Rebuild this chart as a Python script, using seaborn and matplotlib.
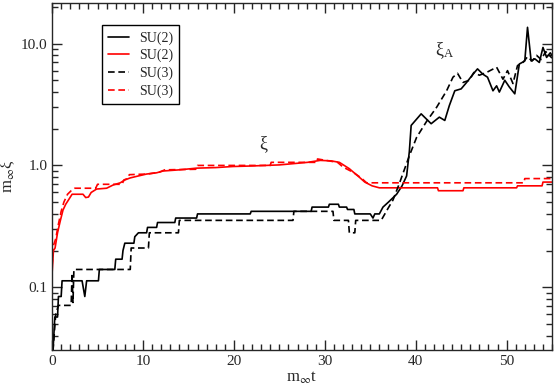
import numpy as np
import pandas as pd
import matplotlib
matplotlib.use("Agg")
import matplotlib.pyplot as plt
from matplotlib.ticker import MultipleLocator, FixedLocator, FixedFormatter
import seaborn as sns

# m_inf t  vs  m_inf xi
t_su2_xiA = [0.1, 0.3, 0.6, 0.7, 1.0, 1.1, 3.3, 3.6, 3.8, 5.1, 5.2, 6.9, 7.0, 7.7, 7.8, 8.0,
             9.0, 9.1, 9.5, 10.4, 10.5, 11.5, 11.6, 13.5, 13.6, 15.9, 16.0, 21.8, 21.9, 28.5,
             28.6, 30.4, 30.5, 31.5, 31.6, 32.4, 32.5, 33.2, 33.3, 35.0, 35.3, 35.5, 36.0, 36.4,
             37.0, 37.9, 38.5, 39.0, 39.3, 39.5, 40.6, 41.7, 42.6, 43.2, 43.7, 44.3, 45.0, 45.6,
             46.3, 46.8, 47.4, 47.9, 48.5, 48.9, 49.2, 49.8, 50.3, 50.9, 51.4, 52.0, 52.3, 52.7,
             53.1, 53.6, 54.0, 54.4, 54.8, 55.0]
v_su2_xiA = [0.03, 0.057, 0.057, 0.084, 0.084, 0.113, 0.113, 0.084, 0.113, 0.113, 0.14, 0.14,
             0.17, 0.17, 0.2, 0.23, 0.23, 0.26, 0.28, 0.28, 0.31, 0.31, 0.34, 0.34, 0.37, 0.37,
             0.40, 0.40, 0.42, 0.42, 0.455, 0.455, 0.48, 0.48, 0.455, 0.455, 0.435, 0.435, 0.40,
             0.40, 0.37, 0.40, 0.40, 0.455, 0.5, 0.58, 0.68, 0.82, 1.3, 2.13, 2.65, 2.2, 2.49,
             2.34, 3.1, 4.1, 4.25, 4.8, 5.6, 6.2, 5.6, 5.3, 4.1, 4.5, 4.0, 5.0, 4.4, 3.87, 6.8,
             7.2, 13.6, 7.2, 7.5, 7.0, 9.3, 7.7, 8.4, 8.0]

t_su3_xiA = [0.1, 0.4, 0.7, 2.1, 2.2, 2.3, 2.4, 8.6, 8.7, 10.6, 10.7, 13.9, 14.0, 26.5, 26.6,
             30.9, 31.0, 32.6, 32.7, 33.3, 33.4, 36.2, 37.0, 37.5, 38.2, 39.3, 40.1, 41.2, 42.3,
             43.4, 44.1, 44.6, 45.2, 45.9, 46.4, 47.0, 47.8, 48.9, 49.6, 50.1, 50.7, 51.2, 51.8,
             52.3, 52.8, 53.3, 53.8, 54.3, 55.0]
v_su3_xiA = [0.03, 0.06, 0.071, 0.071, 0.13, 0.075, 0.14, 0.14, 0.21, 0.21, 0.28, 0.28, 0.354,
             0.354, 0.42, 0.42, 0.354, 0.354, 0.28, 0.28, 0.354, 0.354, 0.45, 0.52, 0.71, 1.2,
             1.7, 2.3, 3.0, 4.1, 5.3, 5.7, 4.8, 5.0, 5.8, 5.5, 5.8, 6.4, 5.1, 6.0, 4.7, 6.6, 7.0,
             7.8, 7.2, 8.0, 7.4, 8.6, 7.6]

t_su2_xi = [0.0, 0.15, 0.33, 0.6, 0.9, 1.2, 1.5, 1.8, 2.2, 3.4, 3.7, 4.0, 4.3, 4.9, 6.0, 6.7,
            7.5, 8.0, 8.6, 9.5, 10.4, 11.5, 12.2, 14.0, 15.9, 18.0, 19.9, 22.0, 25.0, 28.1,
            29.5, 30.7, 31.6, 32.7, 33.8, 34.4, 35.2, 36.0, 42.4, 42.5, 45.2, 45.3, 51.1, 51.2,
            53.9, 54.0, 55.0]
v_su2_xi = [0.13, 0.2, 0.21, 0.28, 0.35, 0.43, 0.48, 0.52, 0.58, 0.58, 0.545, 0.55, 0.6, 0.64,
            0.65, 0.69, 0.72, 0.76, 0.79, 0.82, 0.85, 0.87, 0.9, 0.92, 0.95, 0.96, 0.98, 0.99,
            1.01, 1.06, 1.10, 1.09, 1.06, 0.94, 0.80, 0.73, 0.68, 0.655, 0.655, 0.62, 0.62,
            0.655, 0.655, 0.68, 0.68, 0.73, 0.73]

t_su3_xi = [0.0, 0.15, 0.4, 0.7, 1.0, 1.3, 1.7, 2.1, 2.5, 4.8, 5.0, 7.7, 7.9, 8.3, 8.5, 10.5,
            11.8, 12.4, 15.8, 16.0, 24.0, 24.1, 29.1, 29.2, 31.4, 32.0, 33.1, 34.0, 34.6, 51.9,
            52.0, 55.0]
v_su3_xi = [0.15, 0.22, 0.25, 0.33, 0.42, 0.5, 0.58, 0.62, 0.65, 0.65, 0.7, 0.7, 0.76, 0.78,
            0.84, 0.85, 0.88, 0.92, 0.93, 1.0, 1.0, 1.06, 1.06, 1.13, 1.06, 0.97, 0.88, 0.79,
            0.72, 0.72, 0.78, 0.78]

series = [
    ("SU(2)", t_su2_xiA, v_su2_xiA, "black", "-"),
    ("SU(2)", t_su2_xi, v_su2_xi, "red", "-"),
    ("SU(3)", t_su3_xiA, v_su3_xiA, "black", "--"),
    ("SU(3)", t_su3_xi, v_su3_xi, "red", "--"),
]

sns.set_style("ticks")
plt.rcParams["font.family"] = ["Liberation Serif", "DejaVu Serif"]
plt.rcParams["mathtext.fontset"] = "stix"

fig = plt.figure(figsize=(5.54, 3.86), dpi=100)
ax = fig.add_axes([0.094, 0.093, 0.9025, 0.899])

for label, t, v, col, ls in series:
    df = pd.DataFrame({"t": t, "v": v})
    sns.lineplot(data=df, x="t", y="v", ax=ax, color=col, lw=1.2,
                 estimator=None, sort=False, label=label)
    if ls == "--":
        ax.lines[-1].set_dashes((4, 2.2))

ax.set_yscale("log")
ax.set_xlim(0, 55)
ax.set_ylim(0.0305, 21.5)
ax.xaxis.set_major_locator(MultipleLocator(10))
ax.xaxis.set_minor_locator(MultipleLocator(1))
ax.yaxis.set_major_locator(FixedLocator([0.1, 1.0, 10.0]))
ax.yaxis.set_major_formatter(FixedFormatter(["0.1", "1.0", "10.0"]))
ax.tick_params(which="both", direction="in", top=True, right=True, labelsize=11, width=1)
ax.tick_params(which="major", length=7)
ax.tick_params(which="minor", length=4)
for s in ax.spines.values():
    s.set_linewidth(1)

ax.set_xlabel(r"m$_\infty$t", fontsize=12, labelpad=1)
ax.set_ylabel(r"m$_\infty$ξ", fontsize=12)
ax.yaxis.set_label_coords(-0.07, 0.5)

ax.text(23.2, 1.5, "ξ", fontsize=13, ha="center", va="center")
ax.text(43.2, 8.8, r"$\mathregular{ξ_A}$", fontsize=13, ha="center", va="center")

leg = ax.legend(loc="upper left", bbox_to_anchor=(0.1, 0.937), fontsize=10,
                frameon=True, fancybox=False, edgecolor="black", framealpha=1,
                handlelength=1.5, handletextpad=0.7, labelspacing=0.3, borderpad=0.45,
                borderaxespad=0)
leg.get_frame().set_linewidth(1)

fig.savefig("out.png", dpi=100)
